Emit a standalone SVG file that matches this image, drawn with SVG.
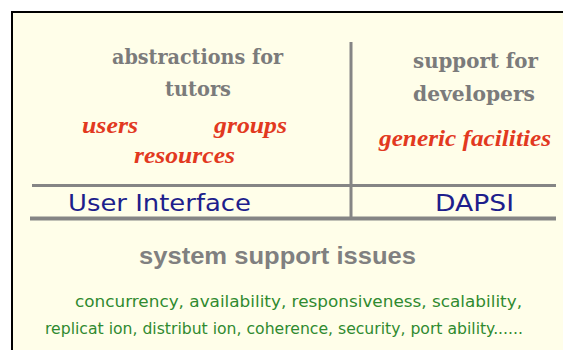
<svg xmlns="http://www.w3.org/2000/svg" width="563" height="350" viewBox="0 0 563 350">
<style>
.hd{font-family:"DejaVu Serif",serif;font-weight:bold;font-size:21px;fill:#7b7b7b;text-anchor:middle}
.rd{font-family:"Liberation Serif",serif;font-weight:bold;font-style:italic;font-size:24px;fill:#e2391f;text-anchor:middle}
.bl{font-family:"Comic Sans MS","DejaVu Sans",sans-serif;font-size:23px;fill:#1e1e8c;text-anchor:middle}
.ss{font-family:"Liberation Sans",Arial,sans-serif;font-weight:bold;font-size:24px;fill:#808080;text-anchor:middle}
.gr{font-family:"Comic Sans MS","DejaVu Sans",sans-serif;font-size:16.5px;fill:#2f8a2f;text-anchor:middle}
.ln{stroke:#858585;fill:none}
</style>
<rect x="0" y="0" width="563" height="350" fill="#ffffff"/>
<g id="frame">
<rect x="12" y="12" width="551" height="338" fill="#fffee9"/>
<path d="M12 350 V12 H563" fill="none" stroke="#000" stroke-width="2"/>
</g>
<g id="lines">
<line class="ln" x1="351" y1="42" x2="351" y2="218" stroke-width="3"/>
<line class="ln" x1="32" y1="185.5" x2="556" y2="185.5" stroke-width="3"/>
<line class="ln" x1="30" y1="218.5" x2="556" y2="218.5" stroke-width="4" stroke="#7a7a7a"/>
</g>
<g id="tutors">
<text class="hd" x="197.5" y="64" textLength="171" lengthAdjust="spacingAndGlyphs">abstractions for</text>
<text class="hd" x="198" y="96" textLength="66" lengthAdjust="spacingAndGlyphs">tutors</text>
<text class="rd" x="110" y="133" textLength="56" lengthAdjust="spacingAndGlyphs">users</text>
<text class="rd" x="250.5" y="133" textLength="73" lengthAdjust="spacingAndGlyphs">groups</text>
<text class="rd" x="184.5" y="163" textLength="101" lengthAdjust="spacingAndGlyphs">resources</text>
</g>
<g id="developers">
<text class="hd" x="475.5" y="68" textLength="125" lengthAdjust="spacingAndGlyphs">support for</text>
<text class="hd" x="474" y="101" textLength="122" lengthAdjust="spacingAndGlyphs">developers</text>
<text class="rd" x="465" y="146" textLength="172" lengthAdjust="spacingAndGlyphs">generic facilities</text>
</g>
<g id="ui">
<text class="bl" x="159.5" y="211" textLength="183" lengthAdjust="spacingAndGlyphs">User Interface</text>
</g>
<g id="dapsi">
<text class="bl" x="474.5" y="211" textLength="79" lengthAdjust="spacingAndGlyphs">DAPSI</text>
</g>
<g id="system">
<text class="ss" x="277.5" y="264" textLength="277" lengthAdjust="spacingAndGlyphs">system support issues</text>
<text class="gr" x="298.5" y="307" textLength="447" lengthAdjust="spacingAndGlyphs">concurrency, availability, responsiveness, scalability,</text>
<text class="gr" x="284" y="334" textLength="478" lengthAdjust="spacingAndGlyphs">replicat ion, distribut ion, coherence, security, port ability......</text>
</g>
</svg>
